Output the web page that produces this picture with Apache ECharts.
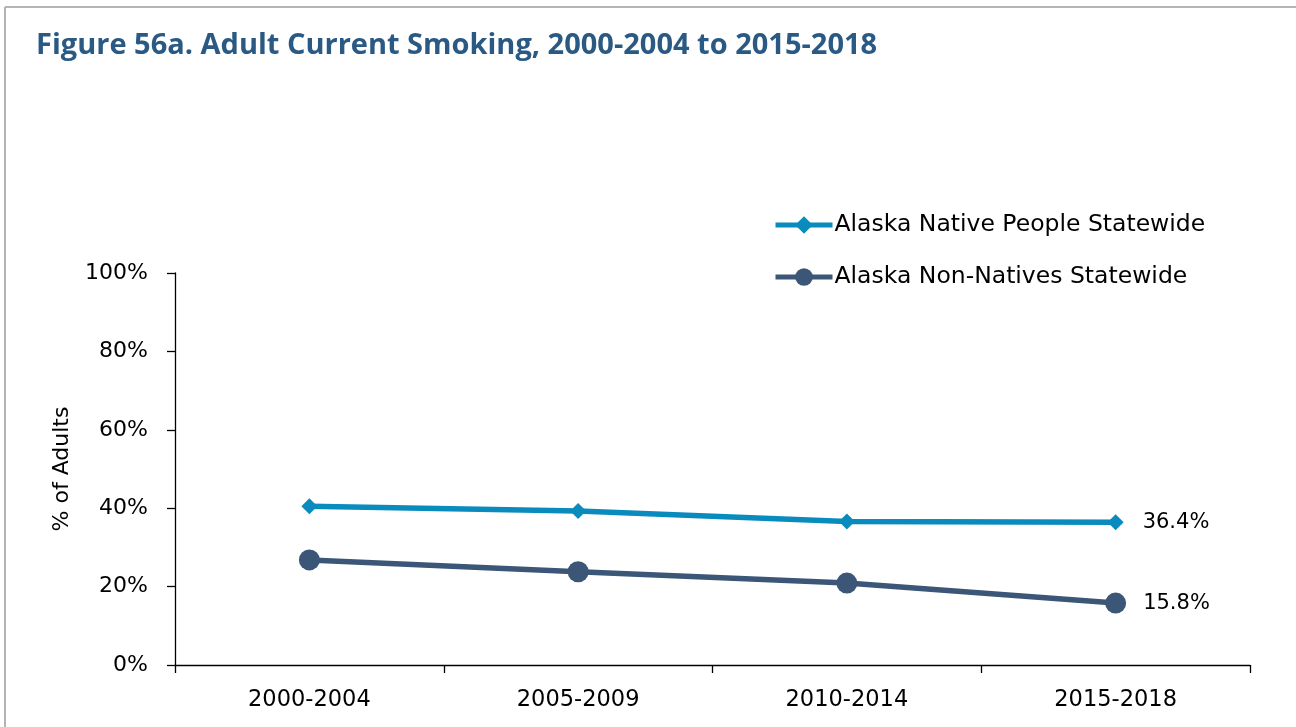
<!DOCTYPE html>
<html>
<head>
<meta charset="utf-8">
<script src="https://cdn.jsdelivr.net/npm/echarts@6/dist/echarts.min.js"></script>
<style>
  html, body { margin: 0; padding: 0; background: #ffffff; }
  #chart { width: 1296px; height: 727px; }
</style>
</head>
<body>
<div id="chart"></div>
<script>
// Periods on the horizontal axis
const periods = ['2000-2004', '2005-2009', '2010-2014', '2015-2018'];
// Adult current smoking, percent of adults
const nativeSmoking = [40.5, 39.3, 36.6, 36.4];
const nonNativeSmoking = [26.8, 23.8, 20.9, 15.8];
// Y axis scale
const yMin = 0, yMax = 100, yStep = 20;

const NATIVE_COLOR = '#0a8bbd';
const NON_NATIVE_COLOR = '#3b5677';
const FONT = '"DejaVu Sans", sans-serif';
const TITLE_FONT = '"Open Sans", Lato, sans-serif';

const chart = echarts.init(document.getElementById('chart'), null, { renderer: 'canvas' });

// only the last point carries a value label
function lastLabel(values, dist) {
  return values.map((v, i) => i === values.length - 1
    ? { value: v, label: { show: true, position: 'right', distance: dist, formatter: v.toFixed(1) + '%', color: '#000', fontSize: 21, fontFamily: FONT } }
    : v);
}

chart.setOption({
  animation: false,
  backgroundColor: '#ffffff',
  title: {
    text: 'Figure 56a. Adult Current Smoking, 2000-2004 to 2015-2018',
    left: 31, top: 26,
    textStyle: { color: '#2a5a84', fontSize: 29, fontWeight: 'bold', fontFamily: TITLE_FONT }
  },
  graphic: [
    { type: 'line', shape: { x1: 5, y1: 7, x2: 1296, y2: 7 }, style: { stroke: '#b4b4b4', lineWidth: 2 } },
    { type: 'line', shape: { x1: 5, y1: 7, x2: 5, y2: 727 }, style: { stroke: '#b4b4b4', lineWidth: 2 } }
  ],
  legend: {
    orient: 'vertical',
    left: 768, top: 208,
    itemWidth: 57, itemHeight: 22, itemGap: 28,
    lineStyle: { width: 5 },
    textStyle: { color: '#000', fontSize: 23.5, fontFamily: FONT, padding: [0, 0, 0, -3] },
    data: ['Alaska Native People Statewide', 'Alaska Non-Natives Statewide']
  },
  grid: { left: 175, right: 46, top: 273, bottom: 62, containLabel: false },
  xAxis: {
    type: 'category',
    data: periods,
    boundaryGap: true,
    axisLine: { lineStyle: { color: '#000', width: 1.3 } },
    axisTick: { show: true, length: 8, inside: false, lineStyle: { color: '#000', width: 1.3 } },
    axisLabel: { color: '#000', fontSize: 22.5, fontFamily: FONT, margin: 24 }
  },
  yAxis: {
    type: 'value',
    min: yMin, max: yMax, interval: yStep,
    name: '% of Adults',
    nameLocation: 'middle',
    nameGap: 102,
    nameRotate: 90,
    nameTextStyle: { color: '#000', fontSize: 22, fontFamily: FONT },
    axisLine: { show: true, lineStyle: { color: '#000', width: 1.3 } },
    axisTick: { show: true, length: 8, lineStyle: { color: '#000', width: 1.3 } },
    splitLine: { show: false },
    axisLabel: { color: '#000', fontSize: 22, fontFamily: FONT, margin: 27, formatter: '{value}%' }
  },
  series: [
    {
      name: 'Alaska Native People Statewide',
      type: 'line',
      data: lastLabel(nativeSmoking, 19),
      symbol: 'diamond',
      symbolSize: 16,
      lineStyle: { color: NATIVE_COLOR, width: 5.5 },
      itemStyle: { color: NATIVE_COLOR }
    },
    {
      name: 'Alaska Non-Natives Statewide',
      type: 'line',
      data: lastLabel(nonNativeSmoking, 17),
      symbol: 'circle',
      symbolSize: 21,
      lineStyle: { color: NON_NATIVE_COLOR, width: 5.5 },
      itemStyle: { color: NON_NATIVE_COLOR }
    }
  ]
});
</script>
</body>
</html>
